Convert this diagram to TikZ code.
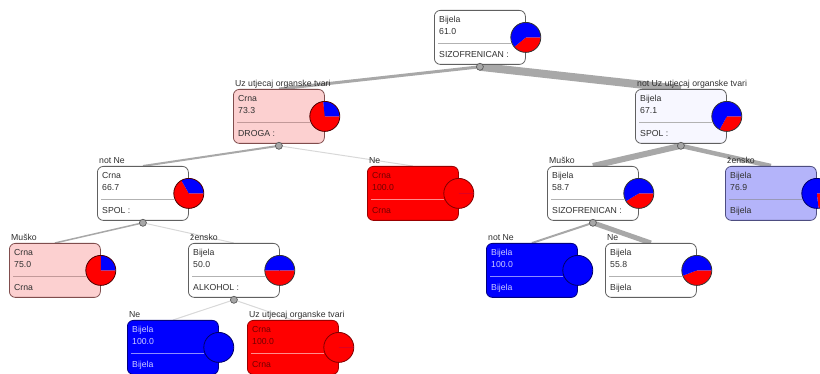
\documentclass[tikz,border=0pt]{standalone}
\usepackage{fontspec}
\setmainfont{Liberation Sans}
\usetikzlibrary{backgrounds}
\definecolor{pinkfill}{HTML}{FCD0D0}
\definecolor{lbfill}{HTML}{B4B4FA}
\definecolor{wbfill}{HTML}{F7F7FF}
\definecolor{boxline}{HTML}{606060}
\definecolor{txtdark}{HTML}{303030}
\definecolor{edgecol}{HTML}{A8A8A8}
\definecolor{edgelight}{HTML}{D8D8D8}
\tikzset{
  boxbase/.style={rectangle, rounded corners=6pt, minimum width=91pt, minimum height=54pt, inner sep=0pt, line width=0.8pt},
  txtbase/.style={inner sep=0pt, font=\fontsize{8.7pt}{10pt}\selectfont},
  wb/.style={boxbase, draw=boxline, fill=white},
  wb txt/.style={txtbase, text=txtdark},
  wb sep/.style={draw=black!30, line width=0.7pt},
  wq/.style={boxbase, draw=boxline, fill=wbfill},
  wq txt/.style={txtbase, text=txtdark},
  wq sep/.style={draw=black!30, line width=0.7pt},
  pk/.style={boxbase, draw=boxline!80!red, fill=pinkfill},
  pk txt/.style={txtbase, text=txtdark},
  pk sep/.style={draw=red!40!black!40, line width=0.7pt},
  lb/.style={boxbase, draw=boxline!80!blue, fill=lbfill},
  lb txt/.style={txtbase, text=txtdark},
  lb sep/.style={draw=blue!30!black!40, line width=0.7pt},
  rd/.style={boxbase, draw=red!60!black, fill=red},
  rd txt/.style={txtbase, text=red!45!black},
  rd sep/.style={draw=red!45!white, line width=0.7pt},
  bl/.style={boxbase, draw=blue!50!black, fill=blue},
  bl txt/.style={txtbase, text=blue!20!white},
  bl sep/.style={draw=blue!45!white, line width=0.7pt},
  lbl/.style={txtbase, text=txtdark, anchor=base west},
  pie/.style={circle, minimum size=30pt, inner sep=0pt, line width=0.8pt},
  dot/.style={circle, minimum size=7pt, inner sep=0pt, fill=black!35, draw=black!65, line width=0.7pt},
  edge/.style={draw=edgecol, line cap=butt},
}
% name, x, top, style, line1, line2, line3
\newcommand{\tbox}[7]{%
  \node[#4, anchor=north west] (#1) at (#2,-#3) {};
  \node[#4 txt, anchor=west] (#1a) at ([xshift=5pt,yshift=-10pt]#1.north west) {#5};
  \node[#4 txt, anchor=west] (#1b) at ([xshift=5pt,yshift=-22pt]#1.north west) {#6};
  \draw[#4 sep] ([xshift=4pt,yshift=-33pt]#1.north west) -- ([xshift=-15pt,yshift=-33pt]#1.north east);
  \node[#4 txt, anchor=west] (#1c) at ([xshift=5pt,yshift=-45pt]#1.north west) {#7};
}
% name, blue angle, outline colour
\newcommand{\tpie}[3]{%
  \fill[red] (#1.east) -- ++(#2:15pt) arc[start angle=#2, end angle=360, radius=15pt] -- cycle;
  \fill[blue] (#1.east) -- ++(0:15pt) arc[start angle=0, end angle=#2, radius=15pt] -- cycle;
  \node[pie, draw=#3] (#1p) at (#1.east) {};
}
\newcommand{\tlabel}[2]{%
  \node[lbl] (#1l) at ([xshift=2pt,yshift=2pt]#1.north west) {#2};
}
\newcommand{\tdot}[1]{%
  \node[dot] (#1d) at ([yshift=-2pt]#1.south) {};
}
\begin{document}
\begin{tikzpicture}[x=1pt,y=1pt]
\useasboundingbox (0,0) rectangle (820,-374);
\clip (0,0) rectangle (820,-374);
% level 1
\tbox{n1}{434}{10}{wb}{Bijela}{61.0}{SIZOFRENICAN :}
\tpie{n1}{219.6}{black!80}
% level 2
\tbox{n2}{233}{89}{pk}{Crna}{73.3}{DROGA :}
\tpie{n2}{96.1}{red!30!black}
\tlabel{n2}{Uz utjecaj organske tvari}
\tbox{n3}{635}{89}{wq}{Bijela}{67.1}{SPOL :}
\tpie{n3}{241.6}{black!80}
\tlabel{n3}{not Uz utjecaj organske tvari}
% level 3
\tbox{n4}{97}{166}{wb}{Crna}{66.7}{SPOL :}
\tpie{n4}{119.9}{red!30!black}
\tlabel{n4}{not Ne}
\tbox{n5}{367}{166}{rd}{Crna}{100.0}{Crna}
\tpie{n5}{0}{red!50!black}
\tlabel{n5}{Ne}
\tbox{n6}{547}{166}{wb}{Bijela}{58.7}{SIZOFRENICAN :}
\tpie{n6}{211.3}{black!80}
\tlabel{n6}{Muško}
\tbox{n7}{725}{166}{lb}{Bijela}{76.9}{Bijela}
\tpie{n7}{276.8}{blue!40!black}
\tlabel{n7}{žensko}
% level 4
\tbox{n8}{9}{243}{pk}{Crna}{75.0}{Crna}
\tpie{n8}{90}{red!30!black}
\tlabel{n8}{Muško}
\tbox{n9}{188}{243}{wb}{Bijela}{50.0}{ALKOHOL :}
\tpie{n9}{180}{black!80}
\tlabel{n9}{žensko}
\tbox{n10}{486}{243}{bl}{Bijela}{100.0}{Bijela}
\tpie{n10}{360}{blue!40!black}
\tlabel{n10}{not Ne}
\tbox{n11}{605}{243}{wb}{Bijela}{55.8}{Bijela}
\tpie{n11}{200.9}{black!80}
\tlabel{n11}{Ne}
% level 5
\tbox{n12}{127}{320}{bl}{Bijela}{100.0}{Bijela}
\tpie{n12}{360}{blue!40!black}
\tlabel{n12}{Ne}
\tbox{n13}{247}{320}{rd}{Crna}{100.0}{Crna}
\tpie{n13}{0}{red!50!black}
\tlabel{n13}{Uz utjecaj organske tvari}
% dots
\tdot{n1}\tdot{n2}\tdot{n3}\tdot{n4}\tdot{n6}\tdot{n9}
% edges
\begin{pgfonlayer}{background}
\draw[edge, line width=3pt] (n1d.center) -- (n2.north);
\draw[edge, line width=8pt] (n1d.center) -- (n3.north);
\draw[edge, line width=2pt] (n2d.center) -- (n4.north);
\draw[edge, draw=edgelight, line width=1pt] (n2d.center) -- (n5.north);
\draw[edge, line width=6pt] (n3d.center) -- (n6.north);
\draw[edge, line width=4.5pt] (n3d.center) -- (n7.north);
\draw[edge, line width=1.5pt] (n4d.center) -- (n8.north);
\draw[edge, draw=edgelight, line width=1pt] (n4d.center) -- (n9.north);
\draw[edge, line width=2pt] (n6d.center) -- (n10.north);
\draw[edge, line width=5pt] (n6d.center) -- (n11.north);
\draw[edge, draw=edgelight, line width=1pt] (n9d.center) -- (n12.north);
\draw[edge, draw=edgelight, line width=1pt] (n9d.center) -- (n13.north);
\end{pgfonlayer}
\end{tikzpicture}
\end{document}
